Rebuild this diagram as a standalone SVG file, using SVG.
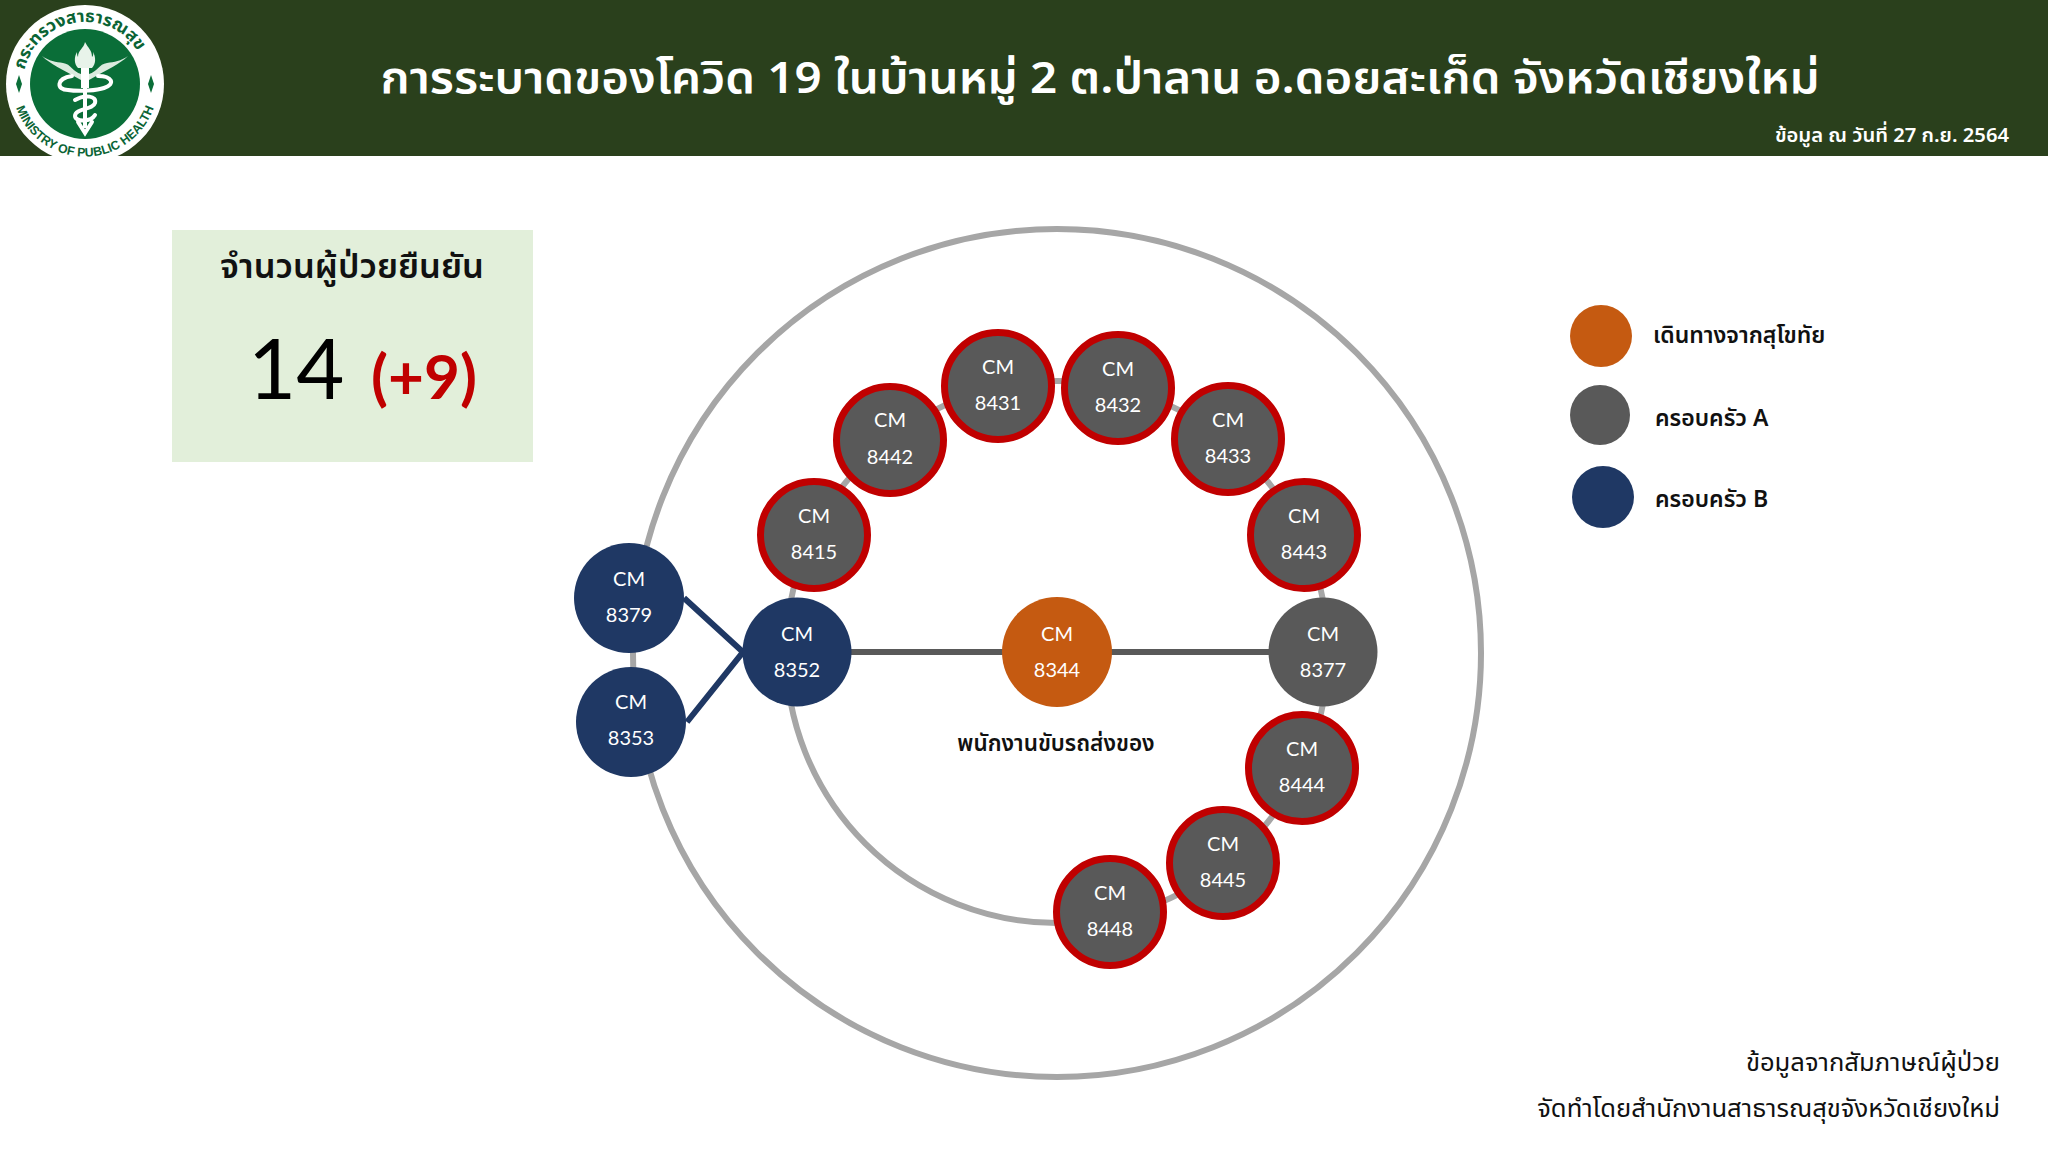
<svg xmlns="http://www.w3.org/2000/svg" width="2048" height="1152" viewBox="0 0 2048 1152">
<style>
text{font-family:"Noto Sans Thai","Noto Sans","DejaVu Sans",sans-serif}
.cm{font-family:Lato,"Open Sans",sans-serif;font-size:20px;fill:#fff;text-anchor:middle}
.a{fill:#595959}.b{fill:#1f3864}.o{fill:#c55a11}
.r{fill:#595959;stroke:#c00000;stroke-width:7}
.ring{fill:none;stroke:#a6a6a6;stroke-width:6}
.lg{font-size:23px;font-weight:600;fill:#111}
.ft{font-size:25.6px;fill:#111;text-anchor:end}
.lt{fill:none;stroke:#fff;stroke-linecap:round}
</style>
<rect width="2048" height="156" fill="#2a401c"/>
<text x="1100" y="93" font-size="44" font-weight="600" fill="#fff" text-anchor="middle" textLength="1439" lengthAdjust="spacingAndGlyphs">การระบาดของโควิด 19 ในบ้านหมู่ 2 ต.ป่าลาน อ.ดอยสะเก็ด จังหวัดเชียงใหม่</text>
<text x="2009" y="142" font-size="20.2" font-weight="600" fill="#fff" text-anchor="end">ข้อมูล ณ วันที่ 27 ก.ย. 2564</text>
<g id="logo">
<circle cx="85" cy="84" r="79" fill="#fff"/>
<circle cx="85" cy="84" r="55" fill="#0a6e38"/>
<defs>
<path id="arcTop" d="M24.6,70 A62,62 0 0 1 145.4,70"/>
<path id="arcBot" d="M14,100 A72.8,72.8 0 0 0 156,100"/>
</defs>
<text font-size="17" font-weight="700" fill="#0a6435"><textPath href="#arcTop" textLength="146" lengthAdjust="spacingAndGlyphs">กระทรวงสาธารณสุข</textPath></text>
<text font-size="12.5" font-weight="700" fill="#0a6435" style="font-family:'Liberation Sans',sans-serif"><textPath href="#arcBot" startOffset="8" textLength="180" lengthAdjust="spacingAndGlyphs">MINISTRY OF PUBLIC HEALTH</textPath></text>
<path d="M16,84l3,-9l3,9l-3,9zM154,84l-3,-9l-3,9l3,9z" fill="#0a6e38"/>
<path d="M85,42c3,6 7,8 7,15c2,-2 1,-4 1,-5c3,5 3,12 -1,16h-14c-4,-4 -4,-11 -1,-16c0,2 0,3 1,5c0,-7 6,-9 7,-15z" fill="#e8f3ea"/>
<rect x="81" y="68" width="8" height="20" fill="#fff"/>
<rect x="83" y="88" width="4" height="40" fill="#fff"/>
<path d="M42,56c8,8 20,13 39,24v-6c-8,-2 -10,-10 -18,-11c-7,-1 -14,-2 -21,-7zM128,56c-8,8 -20,13 -39,24v-6c8,-2 10,-10 18,-11c7,-1 14,-2 21,-7z" fill="#dcebdf"/>
<path class="lt" stroke-width="4" d="M72,76c-16,2 -16,14 -4,14c12,2 30,0 36,-2c12,-4 8,-12 -6,-12M75,100c10,-6 22,-4 20,3c-2,7 -20,5 -20,13c0,6 16,6 20,-1M78,122l7,11l7,-11"/>
</g>
<g id="summary">
<rect x="172" y="230" width="361" height="232" fill="#e2efda"/>
<text x="352" y="278" font-size="34.5" font-weight="600" fill="#111" text-anchor="middle">จำนวนผู้ป่วยยืนยัน</text>
<text x="248" y="399" font-size="83" fill="#000" style="font-family:Lato,sans-serif">14</text>
<text x="371" y="399" font-size="62" font-weight="700" fill="#c00000" style="font-family:Lato,sans-serif">(+9)</text>
</g>
<g id="connectors">
<circle class="ring" cx="1057" cy="653" r="424"/>
<circle class="ring" cx="1057" cy="652" r="271"/>
<path d="M797,652H1323" fill="none" stroke="#595959" stroke-width="6"/>
<path d="M684,598L743,652L687,722" fill="none" stroke="#1f3864" stroke-width="6"/>
</g>
<g id="n8379"><circle class="b" cx="629" cy="598" r="55"/><text class="cm" x="629" y="586">CM</text><text class="cm" x="629" y="622">8379</text></g>
<g id="n8353"><circle class="b" cx="631" cy="722" r="55"/><text class="cm" x="631" y="709">CM</text><text class="cm" x="631" y="745">8353</text></g>
<g id="n8352"><circle class="b" cx="797" cy="652" r="54.5"/><text class="cm" x="797" y="641">CM</text><text class="cm" x="797" y="677">8352</text></g>
<g id="n8344"><circle class="o" cx="1057" cy="652" r="55"/><text class="cm" x="1057" y="641">CM</text><text class="cm" x="1057" y="677">8344</text></g>
<g id="n8377"><circle class="a" cx="1323" cy="652" r="54.5"/><text class="cm" x="1323" y="641">CM</text><text class="cm" x="1323" y="677">8377</text></g>
<g id="n8415"><circle class="r" cx="814" cy="535" r="53.5"/><text class="cm" x="814" y="523">CM</text><text class="cm" x="814" y="559">8415</text></g>
<g id="n8442"><circle class="r" cx="890" cy="440" r="53.5"/><text class="cm" x="890" y="427">CM</text><text class="cm" x="890" y="464">8442</text></g>
<g id="n8431"><circle class="r" cx="998" cy="386" r="53.5"/><text class="cm" x="998" y="374">CM</text><text class="cm" x="998" y="410">8431</text></g>
<g id="n8432"><circle class="r" cx="1118" cy="388" r="53.5"/><text class="cm" x="1118" y="376">CM</text><text class="cm" x="1118" y="412">8432</text></g>
<g id="n8433"><circle class="r" cx="1228" cy="439" r="53.5"/><text class="cm" x="1228" y="427">CM</text><text class="cm" x="1228" y="463">8433</text></g>
<g id="n8443"><circle class="r" cx="1304" cy="535" r="53.5"/><text class="cm" x="1304" y="523">CM</text><text class="cm" x="1304" y="559">8443</text></g>
<g id="n8444"><circle class="r" cx="1302" cy="768" r="53.5"/><text class="cm" x="1302" y="756">CM</text><text class="cm" x="1302" y="792">8444</text></g>
<g id="n8445"><circle class="r" cx="1223" cy="863" r="53.5"/><text class="cm" x="1223" y="851">CM</text><text class="cm" x="1223" y="887">8445</text></g>
<g id="n8448"><circle class="r" cx="1110" cy="912" r="53.5"/><text class="cm" x="1110" y="900">CM</text><text class="cm" x="1110" y="936">8448</text></g>
<text x="1056" y="751" font-size="22.5" font-weight="600" fill="#111" text-anchor="middle">พนักงานขับรถส่งของ</text>
<g id="legend">
<circle class="o" cx="1601" cy="336" r="31"/><text class="lg" x="1653" y="343">เดินทางจากสุโขทัย</text>
<circle class="a" cx="1600" cy="415" r="30"/><text class="lg" x="1655" y="426">ครอบครัว A</text>
<circle class="b" cx="1603" cy="497" r="31"/><text class="lg" x="1655" y="507">ครอบครัว B</text>
</g>
<text class="ft" x="2000" y="1071">ข้อมูลจากสัมภาษณ์ผู้ป่วย</text>
<text class="ft" x="2000" y="1117">จัดทำโดยสำนักงานสาธารณสุขจังหวัดเชียงใหม่</text>
</svg>
